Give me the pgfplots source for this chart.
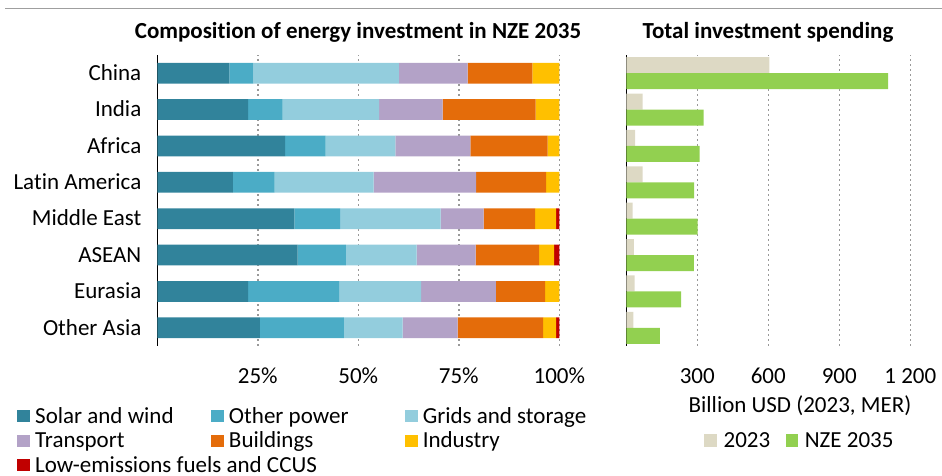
\documentclass[border=0pt]{standalone}
\usepackage{fontspec}
\setmainfont{Carlito}[Ligatures={NoCommon}]
\usepackage{pgfplots}
\pgfplotsset{compat=1.18}

\definecolor{solar}{RGB}{49,131,155}
\definecolor{othpow}{RGB}{75,172,198}
\definecolor{grids}{RGB}{147,205,221}
\definecolor{transp}{RGB}{179,162,199}
\definecolor{build}{RGB}{228,108,10}
\definecolor{indus}{RGB}{255,192,0}
\definecolor{lowem}{RGB}{192,0,0}
\definecolor{y2023}{RGB}{221,217,196}
\definecolor{nze}{RGB}{146,208,80}

\pgfplotsset{
  sq/.style={legend image code/.code={\fill[##1] (0pt,0.5pt) rectangle (6.3pt,6.6pt);}},
  iea/.style={
    scale only axis,
    axis lines*=left,
    x axis line style={draw=none},
    y axis line style={black, line width=0.7pt},
    major tick length=0pt,
    xmajorgrids,
    grid style={gray!80, line width=0.8pt, dash pattern=on 0.8pt off 1.7pt},
    ymin=-0.5, ymax=7.5,
    xmin=0,
    xticklabel style={anchor=base, inner sep=0pt, yshift=-18.65pt},
    yticklabel style={anchor=base east, inner sep=0pt, xshift=-7.8pt, yshift=-3.65pt},
    legend cell align=left,
  },
}

\begin{document}
\fontsize{11.5}{13.8}\selectfont
\begin{tikzpicture}
\path[use as bounding box] (0,0) rectangle (471pt,238pt);
\draw[gray!75, line width=0.85pt] (2.5pt,233.75pt) -- (471pt,233.75pt);

\node[anchor=base, font=\bfseries] at (179pt,218.75pt) {Composition of energy investment in NZE 2035};
\node[anchor=base, font=\bfseries] at (384pt,218.75pt) {Total investment spending};

% left: shares by region (China at top = 7)
\begin{axis}[
  iea,
  xbar stacked,
  every axis plot/.append style={sq},
  at={(78.65pt,65pt)}, anchor=south west,
  width=201pt, height=145.5pt,
  xmax=100,
  bar width=0.57,
  xtick={25,50,75,100},
  xticklabels={25\%,50\%,75\%,100\%},
  ytick={0,...,7},
  yticklabels={Other Asia,Eurasia,ASEAN,Middle East,Latin America,Africa,India,China},
  legend columns=3,
  legend style={draw=none, fill=none, inner sep=0pt,
    at={(axis description cs:-0.349,-0.2096)}, anchor=north west,
    row sep=1.75pt,
    /tikz/every odd column/.append style={column sep=2.6pt},
    nodes={inner sep=0pt, text height=8pt, text depth=2.5pt, anchor=base west}},
]
\addplot[fill=solar, draw=none] coordinates {(25.5,0) (22.6,1) (34.9,2) (34.1,3) (18.8,4) (31.8,5) (22.6,6) (17.9,7)};
\addplot[fill=othpow, draw=none] coordinates {(20.9,0) (22.6,1) (12.0,2) (11.4,3) (10.4,4) (10.1,5) (8.6,6) (6.0,7)};
\addplot[fill=grids, draw=none] coordinates {(14.6,0) (20.4,1) (17.6,2) (25.0,3) (24.6,4) (17.3,5) (24.0,6) (36.2,7)};
\addplot[fill=transp, draw=none] coordinates {(13.7,0) (18.6,1) (14.7,2) (10.7,3) (25.5,4) (18.7,5) (15.8,6) (17.1,7)};
\addplot[fill=build, draw=none] coordinates {(21.3,0) (12.3,1) (15.8,2) (12.8,3) (17.4,4) (19.2,5) (23.1,6) (16.1,7)};
\addplot[fill=indus, draw=none] coordinates {(3.2,0) (3.5,1) (3.7,2) (5.2,3) (3.3,4) (2.9,5) (5.9,6) (6.7,7)};
\addplot[fill=lowem, draw=none] coordinates {(0.8,0) (0,1) (1.3,2) (0.8,3) (0,4) (0,5) (0,6) (0,7)};
\legend{\makebox[88pt][l]{Solar and wind},\makebox[88pt][l]{Other power},Grids and storage,
  \makebox[88pt][l]{Transport},\makebox[88pt][l]{Buildings},Industry,
  \makebox[88pt][l]{Low-emissions fuels and CCUS}}
\end{axis}

% right: totals, billion USD
\begin{axis}[
  iea,
  xbar,
  every axis plot/.append style={sq},
  at={(313.15pt,65pt)}, anchor=south west,
  width=142pt, height=145.5pt,
  xmax=1200,
  bar width=0.44,
  xtick={300,600,900,1200},
  xticklabels={300,600,900,1 200},
  ytick=\empty,
  xlabel={Billion USD (2023, MER)},
  xlabel style={at={(axis description cs:0.6116,-0.2285)}, anchor=base, inner sep=0pt},
  legend columns=2,
  legend style={draw=none, fill=none, inner sep=0pt,
    at={(axis description cs:0.2737,-0.2931)}, anchor=north west,
    /tikz/every odd column/.append style={column sep=3.3pt},
    nodes={inner sep=0pt, text height=8pt, text depth=2.5pt, anchor=base west}},
]
\addplot[fill=y2023, draw=none, bar shift=0.22] coordinates {(30,0) (35,1) (32,2) (27,3) (69,4) (37,5) (69,6) (605,7)};
\addplot[fill=nze, draw=none, bar shift=-0.22] coordinates {(142,0) (232,1) (285,2) (301,3) (287,4) (310,5) (327,6) (1106,7)};
\legend{\makebox[31pt][l]{2023},NZE 2035}
\end{axis}
\end{tikzpicture}
\end{document}
